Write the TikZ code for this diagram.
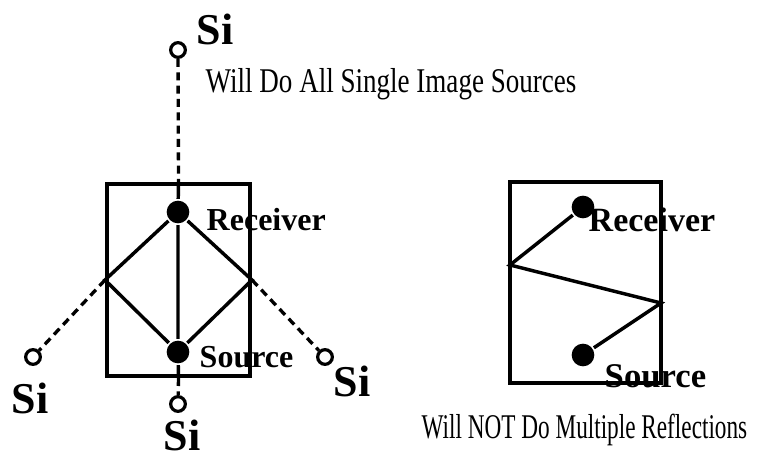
\documentclass[tikz,border=0pt]{standalone}
\usepackage{fontspec}
\setmainfont{Liberation Serif}
\newfontfamily\narrowfont[FakeStretch=0.78]{Liberation Serif}
\newfontfamily\narrowerfont[FakeStretch=0.67]{Liberation Serif}
\usepackage{tikz}
\usetikzlibrary{positioning,calc}

\begin{document}
\begin{tikzpicture}[x=0.75pt,y=-0.75pt,line width=2.6pt]
  \tikzstyle{dot}=[circle,fill=black,inner sep=0pt,minimum size=17pt]
  \tikzstyle{imgsrc}=[circle,draw,fill=white,line width=2.4pt,inner sep=0pt,minimum size=11pt]
  \tikzstyle{room}=[draw,rectangle,inner sep=0pt,line width=3pt]
  \tikzstyle{imgray}=[dash pattern=on 6pt off 4pt,line width=2.5pt]
  \tikzstyle{lbl}=[font=\bfseries\fontsize{24}{24}\selectfont,inner sep=0pt,anchor=base west]
  \tikzstyle{silbl}=[font=\bfseries\fontsize{33}{33}\selectfont,inner sep=0pt,anchor=base west]
  \tikzstyle{caption}=[font=\narrowfont\fontsize{26}{26}\selectfont,inner sep=0pt,anchor=base west]
  \useasboundingbox (0,0) rectangle (758,460);

  % single image sources
  \node[room,minimum width=107.25pt,minimum height=144pt] (roomL) at (178.5,280) {};
  \node[dot] (rec) at (178,212) {};
  \node[dot] (src) at (178,352) {};
  \node[imgsrc] (siT) at (178,50) {};
  \node[imgsrc] (siB) at (178,404) {};
  \node[imgsrc] (siL) at (33,357) {};
  \node[imgsrc] (siR) at (325,357) {};

  \draw (roomL.north) -- (rec) -- (src) -- (roomL.south);
  \draw (rec) -- (roomL.west) -- (src) -- (roomL.east) -- (rec);
  \draw[imgray] (siT) -- (roomL.north);
  \draw[imgray] (roomL.south) -- (siB);
  \draw[imgray] (roomL.west) -- (siL);
  \draw[imgray] (roomL.east) -- (siR);

  \node[silbl] (lT) at (195,45) {Si};
  \node[silbl] (lL) at (10,413) {Si};
  \node[silbl] (lR) at (332,396) {Si};
  \node[silbl] (lB) at (162,450) {Si};
  \node[lbl] (lrec) at (205,230) {Receiver};
  \node[lbl] (lsrc) at (198,367) {Source};
  \node[caption] (cap1) at (204,93) {Will Do All Single Image Sources};

  % multiple reflections
  \node[room,minimum width=113.25pt,minimum height=150.75pt] (roomR) at (585.5,282.5) {};
  \node[dot] (recR) at (583,207) {};
  \node[dot] (srcR) at (583,355) {};
  \coordinate (w1) at (510,265);
  \coordinate (w2) at (661,303);
  \draw (recR) -- (w1) -- (w2) -- (srcR);

  \node[lbl,font=\bfseries\fontsize{25.5}{25.5}\selectfont] (lrecR) at (587,232) {Receiver};
  \node[lbl,font=\bfseries\fontsize{26}{26}\selectfont] (lsrcR) at (603,387) {Source};
  \node[caption,font=\narrowerfont\fontsize{26}{26}\selectfont] (cap2) at (420,438) {Will NOT Do Multiple Reflections};
\end{tikzpicture}
\end{document}
